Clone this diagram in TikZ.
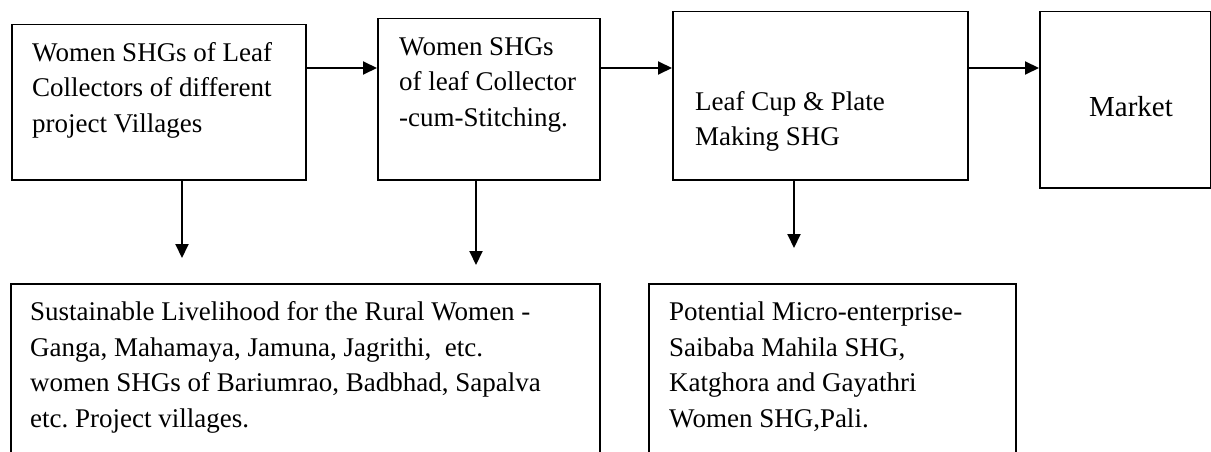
\documentclass[tikz,border=0pt]{standalone}
\usepackage{fontspec}
\setmainfont{Liberation Serif}
\usetikzlibrary{arrows.meta}
\frenchspacing
\begin{document}
\begin{tikzpicture}[x=1pt,y=-1pt,
  box/.style={draw=black,line width=1.5pt,rectangle,inner sep=0pt,anchor=north west},
  label/.style={anchor=base west,align=left,inner sep=0pt,font=\fontsize{27}{35.5}\selectfont},
  arr/.style={line width=2pt,-{Triangle[length=14pt,width=13pt]}}]
\clip (0,0) rectangle (1211,452);
\fill[white] (0,0) rectangle (1211,452);

% top row of boxes
\node[box,minimum width=294pt,minimum height=155pt] (b1) at (11,24) {};
\node[box,minimum width=222pt,minimum height=161pt] (b2) at (377,18) {};
\node[box,minimum width=295pt,minimum height=168pt] (b3) at (672,11) {};
\node[box,minimum width=171pt,minimum height=176pt] (b4) at (1039,11) {};

% bottom boxes (run past the lower edge)
\node[box,minimum width=589pt,minimum height=200pt] (c1) at (10,283) {};
\node[box,minimum width=367pt,minimum height=200pt] (c2) at (648,283) {};

% box texts, placed by the baseline of their last line
\node[label] (t1) at (32,132) {Women SHGs of Leaf\\Collectors of different\\project Villages};
\node[label] (t2) at (399,126) {Women SHGs\\of leaf Collector\\-cum-Stitching.};
\node[label] (t3) at (695,146) {Leaf Cup \& Plate\\Making SHG};
\node[label,anchor=base,font=\fontsize{29}{35.5}\selectfont] (t4) at (1131,117) {Market};
\node[label] (u1) at (30,427) {Sustainable Livelihood for the Rural Women -\\Ganga, Mahamaya, Jamuna, Jagrithi,~ etc.\\women SHGs of Bariumrao, Badbhad, Sapalva\\etc. Project villages.};
\node[label] (u2) at (669,427) {Potential Micro-enterprise-\\Saibaba Mahila SHG,\\Katghora and Gayathri\\Women SHG,Pali.};

% arrow rows and columns
\coordinate (row) at (0,68);
\coordinate (d1) at (182,258);
\coordinate (d2) at (476,265);
\coordinate (d3) at (794,248);

\draw[arr] (b1.east |- row) -- (b2.west |- row);
\draw[arr] (b2.east |- row) -- (b3.west |- row);
\draw[arr] (b3.east |- row) -- (b4.west |- row);

\draw[arr] (b1.south -| d1) -- (d1);
\draw[arr] (b2.south -| d2) -- (d2);
\draw[arr] (b3.south -| d3) -- (d3);
\end{tikzpicture}
\end{document}
